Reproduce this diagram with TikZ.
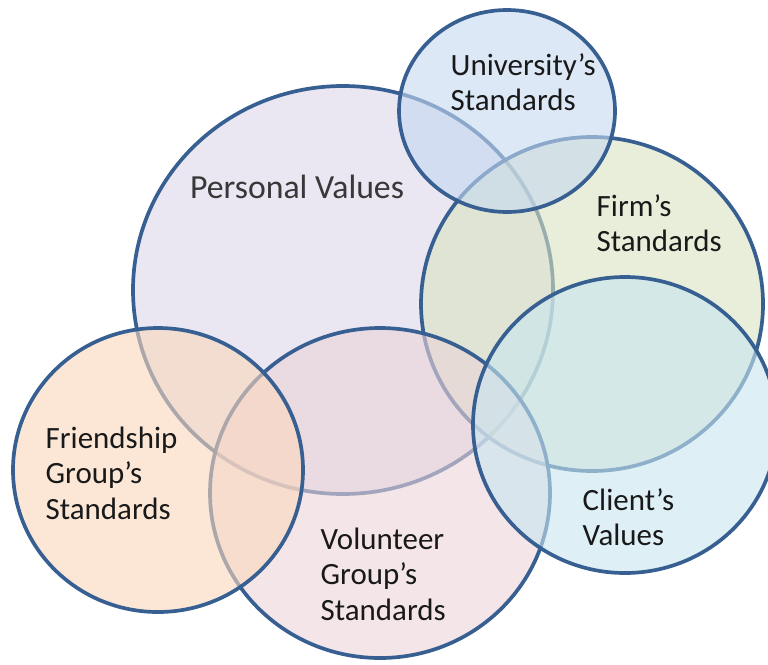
\documentclass[tikz,border=0pt]{standalone}
\usepackage{fontspec}
\setmainfont{Carlito}
\usepackage{xcolor}

\definecolor{rim}{RGB}{55,95,145}
\definecolor{personal}{RGB}{220,213,233}
\definecolor{university}{RGB}{197,217,240}
\definecolor{firm}{RGB}{217,227,193}
\definecolor{client}{RGB}{200,230,240}
\definecolor{friends}{RGB}{250,215,188}
\definecolor{volunteer}{RGB}{235,212,217}

\begin{document}
\begin{tikzpicture}[x=0.01cm, y=-0.01cm,
    set/.style={draw=rim, line width=1.05pt, fill opacity=0.6},
    tag/.style={inner sep=0pt, align=left, anchor=west, text=black!90,
                font=\fontsize{8.8}{10.1}\selectfont}]
    \useasboundingbox (0,0) rectangle (768,664);

    % Sets
    \path[set, fill=personal]   (343,290) ellipse (210 and 204);
    \path[set, fill=firm]       (592,304) ellipse (171 and 167);
    \path[set, fill=volunteer]  (380,493) ellipse (170 and 165);
    \path[set, fill=client]     (625,425) ellipse (152 and 148);
    \path[set, fill=friends]    (158,470) ellipse (145 and 142);
    \path[set, fill=university] (507,111) ellipse (108 and 101);

    % Labels
    \node[tag, anchor=center, text=black!78, font=\fontsize{9.6}{11}\selectfont]
        (personalLbl) at (297,187) {Personal Values};
    \node[tag] (universityLbl) at (450,82)  {University’s\\Standards};
    \node[tag] (firmLbl)       at (596,223) {Firm’s\\Standards};
    \node[tag] (clientLbl)     at (582,517) {Client’s\\Values};
    \node[tag] (friendsLbl)    at (45,473)  {Friendship\\Group’s\\Standards};
    \node[tag] (volunteerLbl)  at (320,574) {Volunteer\\Group’s\\Standards};
\end{tikzpicture}
\end{document}
